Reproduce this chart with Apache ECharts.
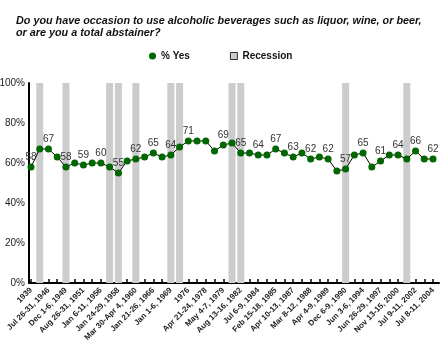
<!DOCTYPE html>
<html>
<head>
<meta charset="utf-8">
<script src="https://cdn.jsdelivr.net/npm/echarts@6/dist/echarts.min.js"></script>
<style>
  html, body { margin: 0; padding: 0; background: #fff; }
  #chart { width: 440px; height: 350px; }
</style>
</head>
<body>
<div id="chart"></div>
<script>
// one label for every second survey
var tickLabels = ['1939', 'Jul 26-31, 1946', 'Dec 1-6, 1949', 'Aug 26-31, 1951', 'Jan 6-11, 1956',
  'Jan 24-29, 1958', 'Mar 30-Apr 4, 1960', 'Jan 21-26, 1966', 'Jan 1-6, 1969', '1976',
  'Apr 21-24, 1978', 'May 4-7, 1979', 'Aug 13-16, 1982', 'Jul 6-9, 1984', 'Feb 15-18, 1985',
  'Apr 10-13, 1987', 'Mar 8-12, 1988', 'Apr 4-9, 1989', 'Dec 6-9, 1990', 'Jun 3-6, 1994',
  'Jun 26-29, 1997', 'Nov 13-15, 2000', 'Jul 9-11, 2002', 'Jul 8-11, 2004']
var yesValues = [58, 67, 67, 63, 58, 60, 59, 60, 60, 58, 55, 61, 62, 63, 65, 63, 64, 68, 71, 71,
  71, 66, 69, 70, 65, 65, 64, 64, 67, 65, 63, 65, 62, 63, 62, 56, 57, 64, 65, 58,
  61, 64, 64, 62, 66, 62, 62]
var recessionIdx = [1, 4, 9, 10, 12, 16, 17, 23, 24, 36, 43]
var labeledIdx = [0, 2, 4, 6, 8, 10, 12, 14, 16, 18, 22, 24, 26, 28, 30, 32, 34, 36, 38, 40, 42, 44, 46]
var yTicks = [0, 20, 40, 60, 80, 100]

var FONT = '"Liberation Sans", Arial, sans-serif'

// 47 surveys, the odd ones carry no label
var categories = yesValues.map(function (v, i) {
  return i % 2 === 0 ? tickLabels[i / 2] : ''
})
var lineData = yesValues.map(function (v, i) {
  return { value: v, label: { show: labeledIdx.indexOf(i) >= 0 } }
})
var barData = yesValues.map(function (v, i) {
  return recessionIdx.indexOf(i) >= 0 ? 100 : '-'
})

var chart = echarts.init(document.getElementById('chart'), null, { renderer: 'canvas' })
chart.setOption({
  animation: false,
  backgroundColor: '#fff',
  title: {
    text: 'Do you have occasion to use alcoholic beverages such as liquor, wine, or beer,\nor are you a total abstainer?',
    left: 11,
    top: 10,
    textStyle: {
      fontFamily: FONT,
      fontSize: 10.8,
      fontStyle: 'italic',
      fontWeight: 'bold',
      color: '#111',
      lineHeight: 12
    }
  },
  legend: {
    left: 149,
    top: 51,
    padding: 0,
    itemWidth: 7,
    itemHeight: 7,
    itemGap: 40,
    textStyle: { fontFamily: FONT, fontSize: 10, fontWeight: 'bold', color: '#111' },
    data: [
      { name: '% Yes', icon: 'circle' },
      { name: 'Recession', icon: 'rect', itemStyle: { color: '#ccc', borderColor: '#333', borderWidth: 1 } }
    ]
  },
  grid: [
    { left: 31, right: 7, top: 83, bottom: 67, outerBoundsMode: 'none' },
    // only carries the bottom line, which runs on past the last survey
    { left: 29, right: 1, top: 83, bottom: 67, outerBoundsMode: 'none' }
  ],
  xAxis: [
    {
      type: 'category',
      gridIndex: 0,
      boundaryGap: false,
      data: categories,
      splitLine: { show: false },
      axisLine: { show: false },
      axisTick: { show: true, inside: true, length: 4, interval: 0, lineStyle: { color: '#000', width: 1.5 } },
      axisLabel: {
        interval: 0,
        rotate: 45,
        margin: 6,
        fontFamily: FONT,
        fontSize: 8,
        fontWeight: 'bold',
        color: '#222'
      }
    },
    {
      type: 'value',
      gridIndex: 1,
      min: 0,
      max: 1,
      splitLine: { show: false },
      axisLine: { show: true, lineStyle: { color: '#000', width: 2 } },
      axisTick: { show: false },
      axisLabel: { show: false }
    }
  ],
  yAxis: [
    {
      type: 'value',
      gridIndex: 0,
      min: yTicks[0],
      max: yTicks[yTicks.length - 1],
      interval: 20,
      offset: 2,
      splitLine: { show: false },
      axisLine: { show: true, lineStyle: { color: '#000', width: 2 } },
      axisTick: { show: false },
      axisLabel: {
        margin: 4,
        fontFamily: FONT,
        fontSize: 10,
        color: '#222',
        formatter: '{value}%'
      }
    },
    { type: 'value', gridIndex: 1, show: false }
  ],
  series: [
    {
      name: 'Recession',
      type: 'bar',
      barWidth: 7,
      itemStyle: { color: '#ccc' },
      z: 1,
      data: barData
    },
    {
      name: '% Yes',
      type: 'line',
      symbol: 'circle',
      symbolSize: 7,
      itemStyle: { color: '#006600' },
      lineStyle: { color: '#000', width: 1 },
      label: {
        position: 'top',
        distance: 1,
        fontFamily: FONT,
        fontSize: 10,
        color: '#333'
      },
      z: 3,
      data: lineData
    }
  ]
})
</script>
</body>
</html>
